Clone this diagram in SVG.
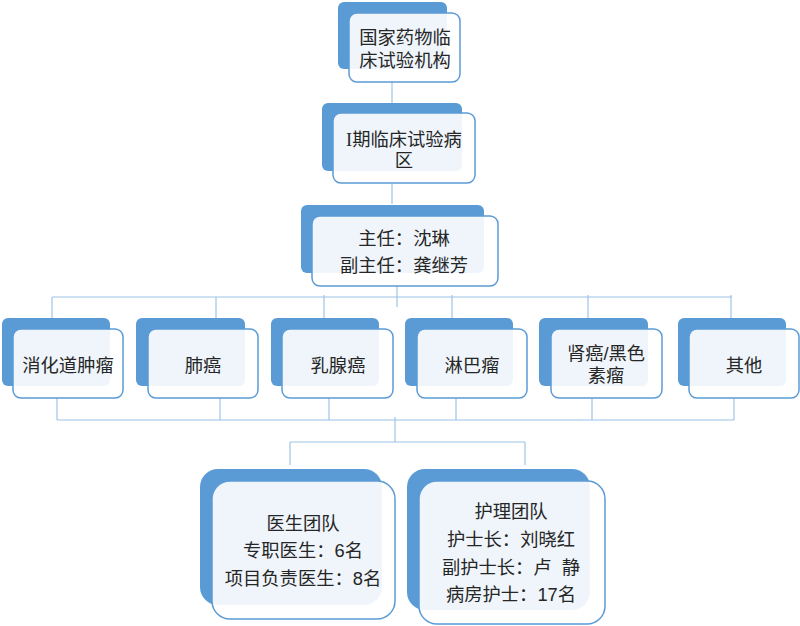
<svg xmlns="http://www.w3.org/2000/svg" width="800" height="626" viewBox="0 0 800 626">
<style>
.bk{fill:#5b9bd5;}
.fr{fill:#ffffff;fill-opacity:0.9;stroke:#5b9bd5;stroke-width:1.5;}
.ln{fill:none;stroke:#9dc3e6;stroke-width:1.2;}
text{font-family:"Liberation Sans","Noto Sans CJK SC",sans-serif;font-size:18.3px;fill:#262626;text-anchor:middle;}
.sf{font-family:"Liberation Serif",serif;}
</style>
<rect width="800" height="626" fill="#ffffff"/>
<g id="connectors">
<path class="ln" d="M392 82V105M392 183V204M397 286V307"/>
<path class="ln" d="M52 297H732M52 297V318M216 297V318M324 295V318M452 295V318M588 295V318M731 295V318"/>
<path class="ln" d="M57 420H734M57 398V420M220 398V420M329 398V420M456 398V420M592 398V420M734 398V420"/>
<path class="ln" d="M395 417V442M290 442H525M290 442V465M525 442V465"/>
</g>
<g id="n1">
<rect class="bk" x="338" y="2" width="109" height="67" rx="6"/>
<rect class="fr" x="349" y="13" width="111" height="69" rx="8"/>
<text x="405" y="44">国家药物临</text>
<text x="405" y="67">床试验机构</text>
</g>
<g id="n2">
<rect class="bk" x="322" y="103" width="140" height="68" rx="6"/>
<rect class="fr" x="333" y="113" width="142" height="70" rx="8"/>
<text x="404" y="146"><tspan class="sf">I</tspan>期临床试验病</text>
<text x="404" y="167">区</text>
</g>
<g id="n3">
<rect class="bk" x="301" y="205" width="183" height="68" rx="6"/>
<rect class="fr" x="312" y="216" width="186" height="70" rx="8"/>
<text x="404" y="245">主任：沈琳</text>
<text x="404" y="272">副主任：龚继芳</text>
</g>
<g id="c1">
<rect class="bk" x="2" y="318" width="108" height="68" rx="6"/>
<rect class="fr" x="13" y="329" width="110" height="69" rx="8"/>
<text x="68" y="372">消化道肿瘤</text>
</g>
<g id="c2">
<rect class="bk" x="136" y="318" width="109" height="68" rx="6"/>
<rect class="fr" x="148" y="329" width="110" height="69" rx="8"/>
<text x="203" y="372">肺癌</text>
</g>
<g id="c3">
<rect class="bk" x="271" y="318" width="108" height="68" rx="6"/>
<rect class="fr" x="282" y="329" width="111" height="69" rx="8"/>
<text x="338" y="372">乳腺癌</text>
</g>
<g id="c4">
<rect class="bk" x="405" y="318" width="108" height="68" rx="6"/>
<rect class="fr" x="417" y="329" width="110" height="69" rx="8"/>
<text x="472" y="372">淋巴瘤</text>
</g>
<g id="c5">
<rect class="bk" x="539" y="318" width="109" height="68" rx="6"/>
<rect class="fr" x="551" y="329" width="111" height="69" rx="8"/>
<text x="606" y="360">肾癌/黑色</text>
<text x="606" y="382">素瘤</text>
</g>
<g id="c6">
<rect class="bk" x="678" y="318" width="108" height="68" rx="6"/>
<rect class="fr" x="689" y="329" width="110" height="69" rx="8"/>
<text x="744" y="372">其他</text>
</g>
<g id="d1">
<rect class="bk" x="200" y="469" width="182" height="136" rx="18"/>
<rect class="fr" x="212" y="481" width="183" height="138" rx="18"/>
<text x="303" y="530">医生团队</text>
<text x="303" y="557">专职医生：6名</text>
<text x="303" y="585">项目负责医生：8名</text>
</g>
<g id="d2">
<rect class="bk" x="407" y="469" width="183" height="141" rx="18"/>
<rect class="fr" x="419" y="481" width="186" height="143" rx="18"/>
<text x="511" y="518">护理团队</text>
<text x="511" y="546">护士长：刘晓红</text>
<text x="511" y="574">副护士长：卢&#160;&#160;静</text>
<text x="511" y="601">病房护士：17名</text>
</g>
</svg>
